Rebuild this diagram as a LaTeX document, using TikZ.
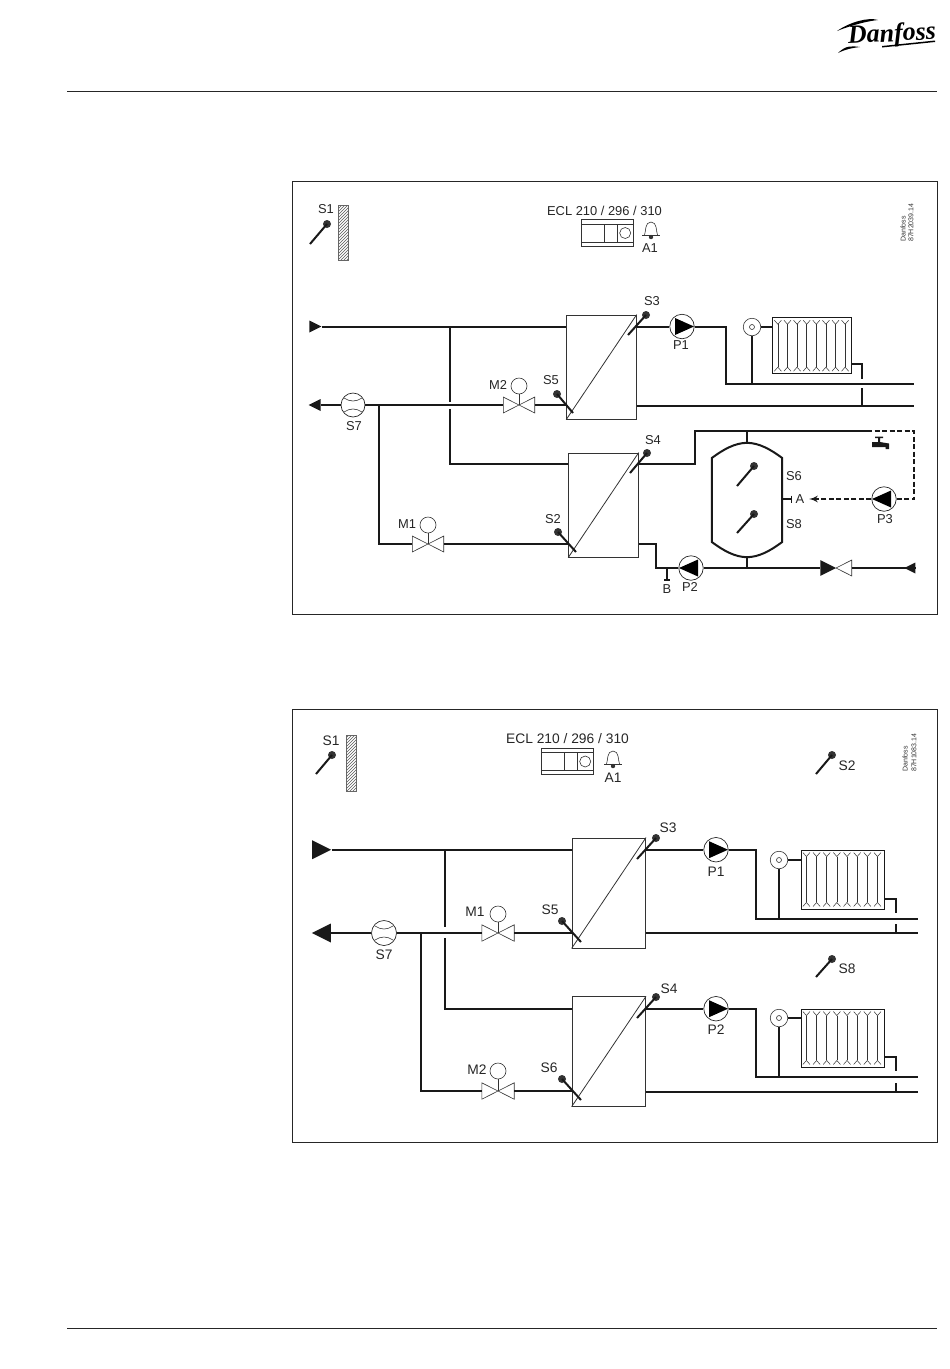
\documentclass[tikz,border=0pt]{standalone}
\usepackage{fontspec}
\setmainfont{Liberation Sans}
\newfontfamily\logofont{Liberation Serif}
\usetikzlibrary{arrows,calc,patterns,shapes.geometric}
\tikzset{lbl/.style={
    inner sep=0pt,text=black!85,
    font=\fontsize{12.9}{14}\selectfont}
    }
\tikzset{lblb/.style={
    inner sep=0pt,text=black!85,
    font=\fontsize{13.8}{15}\selectfont}
    }
\tikzset{tinylbl/.style={
    inner sep=0pt,text=black!80,rotate=90,anchor=west,
    font=\fontsize{7}{8}\selectfont}
}
\tikzset{frame/.style={draw=black!85,line width=1pt},>=latex',
  pipe/.style={draw=black!90,line width=2pt},
  dashpipe/.style={pipe,dash pattern=on 5pt off 2.5pt},
  thinline/.style={draw=black!80,line width=.6pt},
  hxbox/.style={rectangle,draw=black!80,line width=.9pt,inner sep=0pt,
    minimum width=69.5pt},
  pump/.style={circle,draw=black!85,line width=.7pt,inner sep=0pt,minimum size=24.5pt},
  pumpr/.style={pump,path picture={\fill ($(path picture bounding box.center)+(-7,-8.5)$)
    -- ++(0,17) -- ++(19,-8.5) -- cycle;}},
  pumpl/.style={pump,path picture={\fill ($(path picture bounding box.center)+(7,-8.5)$)
    -- ++(0,17) -- ++(-19,-8.5) -- cycle;}},
  valvebox/.style={rectangle,inner sep=0pt,minimum width=31pt,minimum height=15.5pt},
  motor/.style={circle,thinline,inner sep=0pt,minimum size=16pt},
  rvalve/.style={circle,thinline,inner sep=0pt,minimum size=17.5pt},
  rad/.style={rectangle,draw=black!90,line width=.9pt,inner sep=0pt},
  headnode/.style={circle,fill=black!80,inner sep=0pt,minimum size=8pt},
  stemline/.style={draw=black!90,line width=2pt},
  marker/.style={isosceles triangle,isosceles triangle stretches,fill=black!90,
    inner sep=0pt,minimum width=#1,minimum height=#1},
  stub/.style={draw=black!90,line width=1.4pt},
  wall/.style={rectangle,draw=black!60,line width=.4pt,inner sep=0pt,minimum width=10pt,
    minimum height=55pt,pattern=north east lines,pattern color=black!65},
  eclbox/.style={rectangle,thinline,inner sep=0pt,minimum width=52pt,minimum height=26.5pt},
}
\newcommand{\sensor}[3]{\node (#1) [headnode] at (#2) {};
  \draw [stemline] (#1.center) -- ++(#3);}
\newcommand{\hxdiag}[1]{\draw [thinline,line width=.8pt] (#1.south west) -- (#1.north east);}
\newcommand{\valvetie}[1]{\draw [thinline] (#1.north west) -- (#1.south east)
  -- (#1.north east) -- (#1.south west) -- cycle;}
\newcommand{\radfins}[1]{\foreach \i [evaluate=\i as \f using 0.07+0.121*(\i-1)] in {1,...,8} {
    \draw [draw=black!80,line width=.6pt] ($(#1.north west)!\f!(#1.north east)+(0,7)$)
      -- ($(#1.south west)!\f!(#1.south east)+(0,-7)$);
    \draw [draw=black!80,line width=.5pt] ($(#1.north west)!\f!(#1.north east)+(-3.5,3)$)
      -- ++(3.5,4) -- ++(3.5,-4);
    \draw [draw=black!80,line width=.5pt] ($(#1.south west)!\f!(#1.south east)+(-3.5,-3)$)
      -- ++(3.5,-4) -- ++(3.5,4);
  }}
\newcommand{\eclfaces}[1]{
  \draw [thinline] ($(#1.north west)+(0,4.7)$) -- ($(#1.north east)+(0,4.7)$);
  \draw [thinline] ($(#1.south west)+(0,-4.7)$) -- ($(#1.south east)+(0,-4.7)$);
  \draw [thinline] ($(#1.north west)+(22.7,4.7)$) -- ($(#1.south west)+(22.7,-4.7)$);
  \draw [thinline] ($(#1.north west)+(36,4.7)$) -- ($(#1.south west)+(36,-4.7)$);
  \draw [thinline] ($(#1.west)+(44,0)$) circle (5.5);}
\newcommand{\bell}[1]{
  \draw [thinline] ($(#1)+(-9,0)$) -- ($(#1)+(9,0)$);
  \draw [thinline] ($(#1)+(-6.5,0)$) .. controls ($(#1)+(-5,-3)$) and ($(#1)+(-6.5,-13)$) .. ($(#1)+(0,-13)$)
    .. controls ($(#1)+(6.5,-13)$) and ($(#1)+(5,-3)$) .. ($(#1)+(6.5,0)$);
  \fill [black!80] ($(#1)+(0,2)$) circle (2.2);}
\newcommand{\tbar}[1]{\draw [stub] ($(#1)+(-3,0)$) -- ($(#1)+(3,0)$);}

\begin{document}
\begin{tikzpicture}[x=1pt,y=-1pt]
  \useasboundingbox (0,0) rectangle (950,1369);
  % page furniture
  \coordinate (rulel) at (67,91);
  \coordinate (ruler) at (937,91);
  \coordinate (footl) at (67,1328);
  \coordinate (footr) at (937,1328);
  \draw [draw=black!85,line width=1pt] (rulel) -- (ruler);
  \draw [draw=black!85,line width=1pt] (footl) -- (footr);
  \node (logo) [inner sep=0pt,rotate=3,font=\logofont\fontsize{26}{27}\selectfont\bfseries\itshape]
    at (892,35) {Danfoss};
  \fill (837,31) .. controls (850,22) and (868,17) .. (878,20) .. controls (868,21) and (852,25) .. (837,31) -- cycle;
  \fill (838,53) .. controls (846,45) and (852,46) .. (860,47) .. controls (852,48) and (846,49) .. (838,53) -- cycle;
  \fill (882,46) -- (935,40.5) -- (935,42) -- (882,47.5) -- cycle;

  % ------- upper diagram -------
  \node (framea) [frame,rectangle,inner sep=0pt,minimum width=645pt,minimum height=433pt] at (614.5,397.5) {};
  \node (s1a) [lbl] at (326,209) {S1};
  \sensor{s1ah}{327,224}{-17,20}
  \node (walla) [wall] at (343,232.5) {};
  \node (ecla) [lbl] at (604.5,211) {ECL 210 / 296 / 310};
  \node (boxa) [eclbox] at (607.5,233) {};
  \eclfaces{boxa}
  \coordinate (bella) at (651,235);
  \bell{bella}
  \node (a1a) [lbl] at (650,248) {A1};
  \node (dana) [tinylbl] at (903,242) {Danfoss};
  \node (numa) [tinylbl] at (911,242) {87H2039.14};

  \node (hxa) [hxbox,minimum height=104pt] at (601.5,367) {};
  \hxdiag{hxa}
  \node (hxb) [hxbox,minimum height=104pt] at (603.5,505) {};
  \hxdiag{hxb}
  \node (ina) [marker=12pt] at (313,326.5) {};
  \node (outa) [marker=12pt,shape border rotate=180] at (317,405) {};
  \node (flowa) [circle,draw=black!85,line width=.7pt,inner sep=0pt,minimum size=24pt] at (353,405) {};
  \draw [thinline] (344,398) .. controls (350,402) and (356,402) .. (362,398);
  \draw [thinline] (344,412) .. controls (350,408) and (356,408) .. (362,412);
  \node (s7a) [lbl] at (354,426) {S7};
  \node (vm2a) [valvebox] at (519,405) {};
  \valvetie{vm2a}
  \node (mm2a) [motor] at (519,386) {};
  \draw [thinline] (mm2a) -- (vm2a.center);
  \node (m2a) [lbl] at (498,385) {M2};
  \node (vm1a) [valvebox] at (428,544) {};
  \valvetie{vm1a}
  \node (mm1a) [motor] at (428,525) {};
  \draw [thinline] (mm1a) -- (vm1a.center);
  \node (m1a) [lbl] at (407,524) {M1};

  \node (p1a) [pumpr] at (682,326.5) {};
  \node (lp1a) [lbl] at (681,345) {P1};
  \node (rada) [rad,minimum width=78.5pt,minimum height=56pt] at (812,345.7) {};
  \radfins{rada}
  \node (rva) [rvalve] at (752,327) {};
  \draw [thinline] (752,327) circle (2.5);
  \coordinate (sup1a) at (726,384);
  \coordinate (sup1e) at (914,384);
  \coordinate (ret1e) at (914,405.5);
  \coordinate (rtna) at (862,364);
  \coordinate (rtnb) at (862,379);
  \coordinate (rtnc) at (862,388);

  \node (p2a) [pumpl] at (691,568) {};
  \node (lp2a) [lbl] at (690,587) {P2};
  \node (p3a) [pumpl] at (884,499) {};
  \node (lp3a) [lbl] at (885,519) {P3};
  \node (tanka) [rectangle,inner sep=0pt,minimum width=70pt,minimum height=114pt] at (747,500) {};
  \draw [pipe] (tanka.west |- 0,458) .. controls (724,449) and (735,443) .. (tanka.north)
    .. controls (759,443) and (770,449) .. (tanka.east |- 0,458) -- (tanka.east |- 0,542)
    .. controls (770,551) and (759,557) .. (tanka.south)
    .. controls (735,557) and (724,551) .. (tanka.west |- 0,542) -- cycle;
  \node (a) [lbl] at (800,499) {A};
  \node (b) [lbl] at (667,589) {B};
  \node (s6a) [lbl] at (794,476) {S6};
  \node (s8a) [lbl] at (794,524) {S8};
  \node (chk) [valvebox] at (836,568) {};
  \draw [thinline] (chk.north east) -- (chk.south east) -- (chk.center) -- cycle;
  \fill [black!90] (chk.north west) -- (chk.south west) -- (chk.center) -- cycle;
  \node (enda) [marker=11pt,shape border rotate=180] at (912,568) {};
  \coordinate (ha) at (656,544);
  \coordinate (hb) at (695,464);
  \coordinate (hc) at (747,431);
  \coordinate (hd) at (867,431);
  \coordinate (he) at (914,431);
  \coordinate (hf) at (914,499);
  \coordinate (sa) at (792,499);
  \coordinate (sb) at (667,580);
  \coordinate (ta) at (809,499);
  \coordinate (j1) at (450,326.5);
  \coordinate (j2) at (450,464);
  \coordinate (j3) at (379,405);
  \coordinate (j4) at (379,544);
  % pipes
  \draw [pipe] (ina.apex) -- (hxa.west |- ina);
  \draw [pipe] (outa.east) -- (flowa);
  \draw [pipe] (flowa) -- (vm2a);
  \draw [pipe] (vm2a) -- (hxa.west |- vm2a);
  \draw [pipe] (j1) -- (450,402);
  \draw [pipe] (450,409) -- (j2) -- (hxb.west |- j2);
  \draw [pipe] (j3) -- (j4) -- (vm1a);
  \draw [pipe] (vm1a) -- (hxb.west |- vm1a);
  \draw [pipe] (hxa.east |- p1a) -- (p1a);
  \draw [pipe] (p1a) -| (sup1a) -- (sup1e);
  \draw [pipe] (rva) -- (752,384);
  \draw [pipe,line width=1.2pt] (rva) -- (rada.west |- rva);
  \draw [pipe] (rada.east |- rtna) -- (rtna) -- (rtnb);
  \draw [pipe] (rtnc) -- (862,405.5);
  \draw [pipe] (hxa.east |- ret1e) -- (ret1e);
  \draw [pipe] (hxb.east |- hb) -- (hb) -- (hb |- hd) -- (hd);
  \draw [dashpipe] (hd) -- (he) -- (hf) -- (p3a);
  \draw [dashpipe,->] (p3a) -- (ta);
  \draw [pipe] (hc) -- (tanka.north);
  \draw [pipe] (tanka.south) -- (747,568);
  \draw [stub] (tanka.east |- sa) -- (sa);
  \draw [stub] (791.5,495.5) -- (791.5,502.5);
  \draw [pipe] (hxb.east |- ha) -- (ha) -- (ha |- p2a) -- (p2a);
  \draw [stub] (sb |- p2a) -- (sb);
  \tbar{sb}
  \draw [pipe] (p2a) -- (chk);
  \draw [pipe] (chk) -- (enda.east);
  % tap
  \fill [black!90] (875,436.5) -- (883,436.5) -- (883,438) -- (880,438) -- (880,442) -- (889,443.5)
    -- (889,449) -- (885.5,449) -- (885.5,447) -- (872,447) -- (872,442) -- (878,442) -- (878,438)
    -- (875,438) -- cycle;
  % sensors
  \sensor{s3ah}{646,315}{-18,20}
  \node (s3a) [lbl] at (652,301) {S3};
  \sensor{s5ah}{557,394}{16,19}
  \node (s5a) [lbl] at (551,380) {S5};
  \sensor{s4ah}{647,453}{-17,20}
  \node (s4a) [lbl] at (653,440) {S4};
  \sensor{s2ah}{558,532}{18,20}
  \node (s2a) [lbl] at (553,519) {S2};
  \sensor{s6ah}{754,466}{-17,20}
  \sensor{s8ah}{754,514}{-17,19}

  % ------- lower diagram -------
  \node (frameb) [frame,rectangle,inner sep=0pt,minimum width=645pt,minimum height=433pt] at (614.5,925.5) {};
  \node (s1b) [lblb] at (331,741) {S1};
  \sensor{s1bh}{332,755}{-16,19}
  \node (wallb) [wall,minimum height=56pt] at (351,763) {};
  \node (eclb) [lblb] at (567.5,739) {ECL 210 / 296 / 310};
  \node (boxb) [eclbox] at (567.5,761.5) {};
  \eclfaces{boxb}
  \coordinate (bellb) at (613,764);
  \bell{bellb}
  \node (a1b) [lblb] at (613,778) {A1};
  \node (danb) [tinylbl] at (905,772) {Danfoss};
  \node (numb) [tinylbl] at (914,772) {87H1083.14};
  \sensor{s2bh}{832,755}{-16,19}
  \node (s2b) [lblb] at (847,766) {S2};
  \sensor{s8bh}{832,959}{-16,18}
  \node (s8b) [lblb] at (847,969) {S8};

  \node (hxc) [hxbox,minimum width=73.5pt,minimum height=110pt] at (608.8,893) {};
  \hxdiag{hxc}
  \node (hxd) [hxbox,minimum width=73.5pt,minimum height=109.5pt] at (608.8,1051.5) {};
  \hxdiag{hxd}
  \node (inb) [marker=19pt] at (318,849.7) {};
  \node (outb) [marker=19pt,shape border rotate=180] at (325,933) {};
  \node (flowb) [circle,draw=black!85,line width=.7pt,inner sep=0pt,minimum size=25pt] at (384,933) {};
  \draw [thinline] (375,926) .. controls (381,930) and (387,930) .. (393,926);
  \draw [thinline] (375,940) .. controls (381,936) and (387,936) .. (393,940);
  \node (s7b) [lblb] at (384,955) {S7};
  \node (vm1b) [valvebox,minimum width=32pt,minimum height=16pt] at (498,933) {};
  \valvetie{vm1b}
  \node (mm1b) [motor] at (498,914) {};
  \draw [thinline] (mm1b) -- (vm1b.center);
  \node (m1b) [lblb] at (475,912) {M1};
  \node (vm2b) [valvebox,minimum width=32pt,minimum height=16pt] at (498,1091) {};
  \valvetie{vm2b}
  \node (mm2b) [motor] at (498,1071) {};
  \draw [thinline] (mm2b) -- (vm2b.center);
  \node (m2b) [lblb] at (477,1070) {M2};

  \node (p1b) [pumpr] at (716,849.7) {};
  \node (lp1b) [lblb] at (716,872) {P1};
  \node (p2b) [pumpr] at (716,1008.7) {};
  \node (lp2b) [lblb] at (716,1030) {P2};
  \node (radb) [rad,minimum width=83pt,minimum height=59pt] at (842.5,879.5) {};
  \radfins{radb}
  \node (rvb) [rvalve] at (779,860) {};
  \draw [thinline] (779,860) circle (2.5);
  \node (radc) [rad,minimum width=83pt,minimum height=58pt] at (842.5,1038) {};
  \radfins{radc}
  \node (rvc) [rvalve] at (779,1018) {};
  \draw [thinline] (779,1018) circle (2.5);
  \coordinate (ja) at (445,849.7);
  \coordinate (jb) at (445,1008.7);
  \coordinate (jc) at (421,933);
  \coordinate (jd) at (421,1091);
  \coordinate (sup1b) at (755.7,918.7);
  \coordinate (sup1f) at (917.7,918.7);
  \coordinate (ret1f) at (917.7,933);
  \coordinate (sup2b) at (755.7,1077);
  \coordinate (sup2f) at (917.7,1077);
  \coordinate (ret2f) at (917.7,1091.5);
  \coordinate (rtnd) at (896,899);
  \coordinate (rtne) at (896,1057);
  % pipes
  \draw [pipe] (inb.apex) -- (hxc.west |- inb);
  \draw [pipe] (outb.east) -- (flowb);
  \draw [pipe] (flowb) -- (vm1b);
  \draw [pipe] (vm1b) -- (hxc.west |- vm1b);
  \draw [pipe] (ja) -- (445,927);
  \draw [pipe] (445,938) -- (jb) -- (hxd.west |- jb);
  \draw [pipe] (jc) -- (jd) -- (vm2b);
  \draw [pipe] (vm2b) -- (hxd.west |- vm2b);
  \draw [pipe] (hxc.east |- p1b) -- (p1b);
  \draw [pipe] (p1b) -| (sup1b) -- (sup1f);
  \draw [pipe] (rvb) -- (779,918.7);
  \draw [pipe,line width=1.2pt] (rvb) -- (radb.west |- rvb);
  \draw [pipe] (radb.east |- rtnd) -- (rtnd) -- (896,913);
  \draw [pipe] (896,924) -- (896,933);
  \draw [pipe] (hxc.east |- ret1f) -- (ret1f);
  \draw [pipe] (hxd.east |- p2b) -- (p2b);
  \draw [pipe] (p2b) -| (sup2b) -- (sup2f);
  \draw [pipe] (rvc) -- (779,1077);
  \draw [pipe,line width=1.2pt] (rvc) -- (radc.west |- rvc);
  \draw [pipe] (radc.east |- rtne) -- (rtne) -- (896,1071);
  \draw [pipe] (896,1083) -- (896,1091.5);
  \draw [pipe] (hxd.east |- ret2f) -- (ret2f);
  % sensors
  \sensor{s3bh}{656,838}{-19,21}
  \node (s3b) [lblb] at (668,828) {S3};
  \sensor{s5bh}{562,921}{19,21}
  \node (s5b) [lblb] at (550,910) {S5};
  \sensor{s4bh}{656,997}{-19,21}
  \node (s4b) [lblb] at (669,989) {S4};
  \sensor{s6bh}{562,1079}{19,21}
  \node (s6b) [lblb] at (549,1068) {S6};
\end{tikzpicture}
\end{document}
